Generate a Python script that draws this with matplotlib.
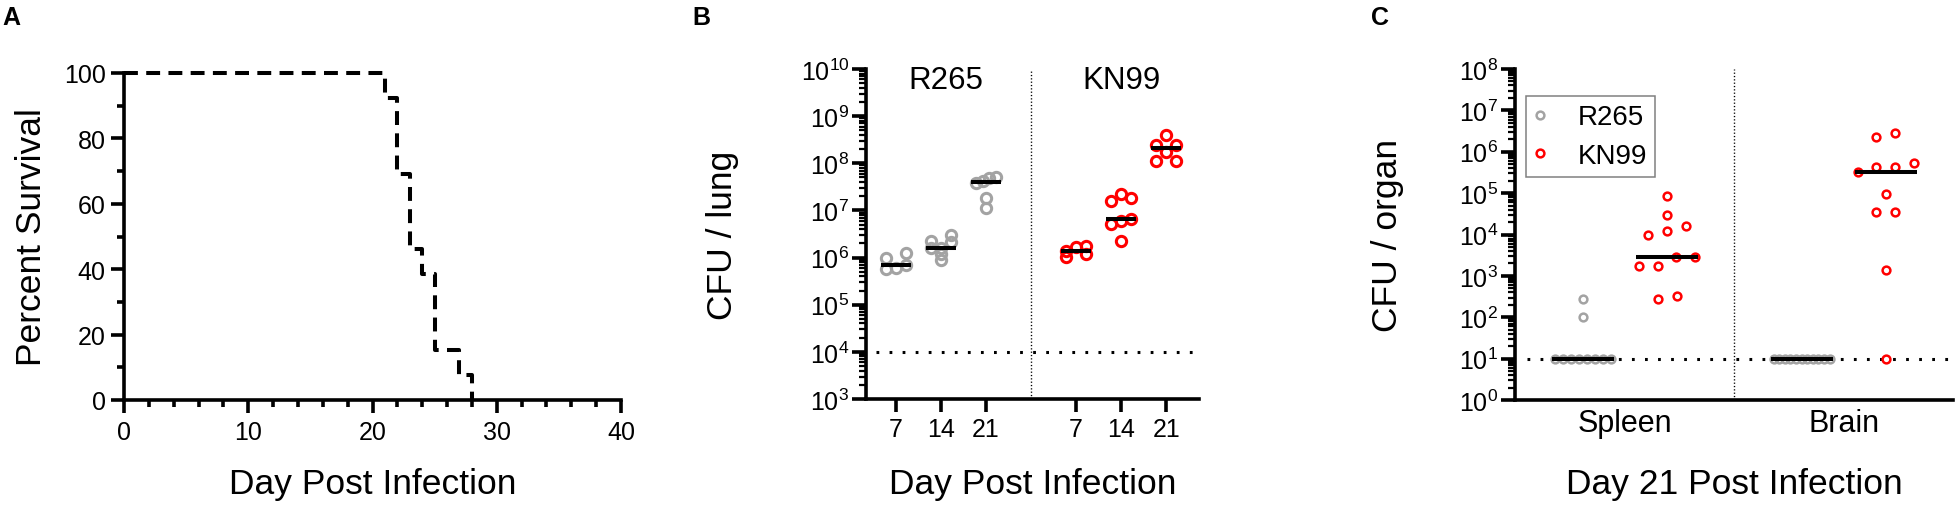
import numpy as np
import matplotlib
matplotlib.use('Agg')
import matplotlib.pyplot as plt
import matplotlib.transforms as mtransforms
from matplotlib.ticker import LogLocator, NullFormatter, MultipleLocator

plt.rcParams['font.family'] = ['Liberation Sans', 'DejaVu Sans']
plt.rcParams['mathtext.fontset'] = 'custom'
plt.rcParams['mathtext.rm'] = 'Liberation Sans'
plt.rcParams['mathtext.it'] = 'Liberation Sans:italic'
plt.rcParams['mathtext.bf'] = 'Liberation Sans:bold'
plt.rcParams['lines.scale_dashes'] = False

# ---- data ----
# A: Kaplan-Meier survival
surv_days = [0, 21, 22, 23, 24, 25, 27, 28]
surv_pct = [100, 92.3, 69.2, 46.2, 38.5, 15.4, 7.7, 0]

# B: lung burden by day
lung_days = ['7', '14', '21']
lung_r265 = [[1.26e6, 9.8e5, 6.9e5, 5.9e5, 5.6e5],
             [2.95e6, 2.24e6, 2.14e6, 1.62e6, 1.62e6, 1.2e6, 8.9e5],
             [1.1e7, 1.8e7, 3.9e7, 4.3e7, 4.8e7, 5.1e7]]
lung_kn99 = [[1.8e6, 1.7e6, 1.38e6, 1.2e6, 1.02e6],
             [2.3e6, 5.2e6, 6.1e6, 6.6e6, 1.6e7, 1.8e7, 2.2e7],
             [1.1e8, 1.1e8, 1.7e8, 2.5e8, 2.5e8, 3.9e8]]
lung_limit = 1e4

# C: organ burden at day 21
organs = ['Spleen', 'Brain']
organ_r265 = [[10] * 8 + [100, 270],
              [10] * 11]
organ_kn99 = [[280, 320, 1700, 1700, 2900, 2900, 1.0e4, 1.2e4, 1.6e4, 2.9e4, 8.7e4],
              [10, 1400, 3.5e4, 3.5e4, 9.6e4, 3.2e5, 4.2e5, 4.2e5, 5.4e5, 2.3e6, 2.8e6]]
organ_limit = 10

GREY = '#a3a3a3'
RED = '#ff0000'
W, H = 1960, 510
TICK_FS = 18
LABEL_FS = 25.5


def row_x(ax, xc, vals, tol, spacing, half):
    # simple GraphPad-like scatter: points close in y share a row, rows are centred
    vals = np.asarray(vals, dtype=float)
    disp = ax.transData.transform(np.column_stack([np.full(len(vals), xc), vals]))
    y = disp[:, 1]
    order = np.argsort(y, kind='stable')
    rows = []
    for i in order:
        if rows and y[i] - y[rows[-1][0]] < tol:
            rows[-1].append(i)
        else:
            rows.append([i])
    offs = np.zeros(len(vals))
    for r in rows:
        n = len(r)
        step = spacing if n == 1 else min(spacing, 2 * half / (n - 1))
        for k, i in enumerate(r):
            offs[i] = (k - (n - 1) / 2) * step
    px_unit = ax.transData.transform((xc + 1, vals[0]))[0] - disp[0, 0]
    return xc + offs / px_unit


def base_style(ax):
    for s in ['top', 'right']:
        ax.spines[s].set_visible(False)
    for s in ['left', 'bottom']:
        ax.spines[s].set_linewidth(2.6)
        ax.spines[s].set_capstyle('projecting')


fig = plt.figure(figsize=(W / 100, H / 100), dpi=100)

# ---------------- A ----------------
axA = fig.add_axes([124 / W, (H - 401) / H, 497 / W, 327 / H])
base_style(axA)
axA.step(surv_days, surv_pct, where='post', color='k', lw=2.9, dashes=(10, 6),
         dash_capstyle='butt', clip_on=False, zorder=3)
axA.set_xlim(0, 40)
axA.set_ylim(0, 100)
axA.xaxis.set_major_locator(MultipleLocator(10))
axA.xaxis.set_minor_locator(MultipleLocator(2))
axA.yaxis.set_major_locator(MultipleLocator(20))
axA.yaxis.set_minor_locator(MultipleLocator(10))
axA.tick_params(which='major', length=9.7, width=2.6, labelsize=TICK_FS)
axA.tick_params(which='minor', length=5.2, width=2.6)
axA.tick_params(axis='x', which='major', pad=4.5)
axA.tick_params(axis='y', which='major', pad=3.5)
axA.set_xlabel('Day Post Infection', fontsize=LABEL_FS, va='center')
axA.xaxis.set_label_coords(0.5, -0.254)
axA.set_ylabel('Percent Survival', fontsize=LABEL_FS, va='center')
axA.yaxis.set_label_coords(-0.187, 0.5)

# ---------------- B ----------------
axB = fig.add_axes([866 / W, (H - 400) / H, 333 / W, 330 / H])
base_style(axB)
axB.set_yscale('log')
axB.set_ylim(1e3, 1e10)
axB.set_xlim(0.333, 7.73)
pos_r = [1, 2, 3]
pos_k = [5, 6, 7]
for grp, pos, col in [(lung_r265, pos_r, GREY), (lung_kn99, pos_k, RED)]:
    for vals, xc in zip(grp, pos):
        xs = row_x(axB, xc, vals, tol=6, spacing=20, half=10)
        axB.plot(xs, vals, 'o', ms=7.4, mfc='none', mec=col, mew=2.2, zorder=3)
        axB.hlines(np.median(vals), xc - 0.33, xc + 0.33, color='k', lw=2.9, zorder=4)
axB.axvline(4, color='k', lw=1.0, dashes=(0.9, 1.5), zorder=1)
axB.axhline(lung_limit, xmin=0.03, xmax=0.994, color='k', lw=2.2, dashes=(2, 7.4), zorder=1)
axB.set_xticks(pos_r + pos_k)
axB.set_xticklabels(lung_days + lung_days)
axB.yaxis.set_major_locator(LogLocator(base=10, numticks=20))
axB.yaxis.set_minor_locator(LogLocator(base=10, subs=np.arange(2, 10), numticks=20))
axB.yaxis.set_minor_formatter(NullFormatter())
axB.tick_params(which='major', length=10, width=2.6, labelsize=TICK_FS)
axB.tick_params(axis='y', which='major', pad=2)
axB.tick_params(axis='x', which='major', pad=3.5, length=9.5)
axB.tick_params(which='minor', length=5, width=1.6)
tr = mtransforms.blended_transform_factory(axB.transData, axB.transAxes)
axB.text(2.1, 0.967, 'R265', transform=tr, ha='center', va='center', fontsize=22.5)
axB.text(6.0, 0.967, 'KN99', transform=tr, ha='center', va='center', fontsize=22.5)
axB.set_xlabel('Day Post Infection', fontsize=LABEL_FS, va='center')
axB.xaxis.set_label_coords(0.5, -0.255)
axB.set_ylabel('CFU / lung', fontsize=LABEL_FS, va='center')
axB.yaxis.set_label_coords(-0.432, 0.5)

# ---------------- C ----------------
axC = fig.add_axes([1515 / W, (H - 401) / H, 438 / W, 331 / H])
base_style(axC)
axC.set_yscale('log')
axC.set_ylim(1, 1e8)
axC.set_xlim(0.19, 5.40)
org_r = [1, 3.6]
org_k = [2, 4.6]
handles = []
for grp, pos, col, name in [(organ_r265, org_r, GREY, 'R265'), (organ_kn99, org_k, RED, 'KN99')]:
    for j, (vals, xc) in enumerate(zip(grp, pos)):
        xs = row_x(axC, xc, vals, tol=11, spacing=19, half=28)
        h, = axC.plot(xs, vals, 'o', ms=5.6, mfc='none', mec=col, mew=1.8, zorder=3,
                      label=name if j == 0 else None, clip_on=False)
        if j == 0:
            handles.append(h)
        axC.hlines(np.median(vals), xc - 0.37, xc + 0.37, color='k', lw=2.9, zorder=4)
axC.axvline(2.8, color='k', lw=1.0, dashes=(0.9, 1.5), zorder=1)
axC.axhline(organ_limit, xmin=0.027, xmax=0.993, color='k', lw=2.2, dashes=(2, 7.4), zorder=1)
axC.set_xticks([(a + b) / 2 for a, b in zip(org_r, org_k)])
axC.set_xticklabels(organs, fontsize=22)
axC.yaxis.set_major_locator(LogLocator(base=10, numticks=20))
axC.yaxis.set_minor_locator(LogLocator(base=10, subs=np.arange(2, 10), numticks=20))
axC.yaxis.set_minor_formatter(NullFormatter())
axC.tick_params(axis='y', which='major', length=10, width=2.6, labelsize=TICK_FS, pad=2)
axC.tick_params(axis='x', which='major', length=0, pad=6)
axC.tick_params(which='minor', length=5, width=1.6)
leg = axC.legend(handles=handles, loc='upper left', bbox_to_anchor=(0.025, 0.918),
                 borderaxespad=0, fontsize=20, fancybox=False, framealpha=1,
                 edgecolor='#808080', handlelength=0.43, handletextpad=1.12,
                 borderpad=0.3, labelspacing=0.45, numpoints=1)
leg.get_frame().set_linewidth(1.1)
axC.set_xlabel('Day 21 Post Infection', fontsize=LABEL_FS, va='center')
axC.xaxis.set_label_coords(0.5, -0.251)
axC.set_ylabel('CFU / organ', fontsize=LABEL_FS, va='center')
axC.yaxis.set_label_coords(-0.290, 0.5)

# panel letters
for x0, letter in [(2, 'A'), (692, 'B'), (1371, 'C')]:
    fig.text(x0 / W, 1 - 6 / H, letter, fontsize=18, fontweight='bold', ha='left', va='top')

fig.savefig('out.png', dpi=100)
